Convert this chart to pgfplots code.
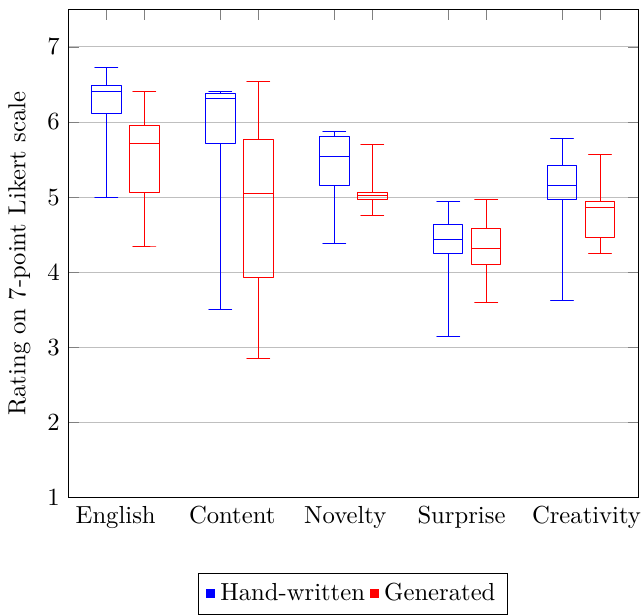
\documentclass[border=0pt]{standalone}
\usepackage{pgfplots}
\pgfplotsset{compat=1.18}
\pgfplotsset{
  hw/.style={blue, mark=none, forget plot, line join=round, line cap=round},
  gen/.style={red, mark=none, forget plot, line join=round, line cap=round},
}
\begin{document}
\begin{tikzpicture}
\begin{axis}[
  scale only axis,
  width=231pt, height=198pt,
  xmin=0.5, xmax=5.5,
  ymin=1, ymax=7.5,
  ytick={1,2,3,4,5,6,7},
  ymajorgrids,
  xtick=\empty,
  extra x ticks={0.56,1.555,2.565,3.56,4.565},
  extra x tick labels={English,Content,Novelty,Surprise,Creativity},
  extra x tick style={major tick length=0pt, xticklabel style={anchor=north west, inner xsep=0pt}},
  ylabel={Rating on 7-point Likert scale},
  legend style={at={(0.5,-0.154)}, anchor=north, legend columns=2,
    /tikz/every even column/.append style={column sep=0pt}},
  legend image code/.code={\fill[#1] (0pt,-1.7pt) rectangle (3.4pt,1.7pt);},
]
% Each box: whisker 5-number summary (LW, LQ, M, UQ, UW)
% English  Hand-written: 5.00 6.11 6.41 6.49 6.72
\addplot[hw] coordinates {(0.7333,5.00) (0.9333,5.00) (0.8333,5.00) (0.8333,6.11) (0.7033,6.11) (0.7033,6.49) (0.9633,6.49) (0.9633,6.11) (0.7033,6.11) (0.7033,6.41) (0.9633,6.41) (0.9633,6.49) (0.8333,6.49) (0.8333,6.72) (0.7333,6.72) (0.9333,6.72)};
% English  Generated: 4.35 5.06 5.71 5.96 6.41
\addplot[gen] coordinates {(1.0667,4.35) (1.2667,4.35) (1.1667,4.35) (1.1667,5.06) (1.0367,5.06) (1.0367,5.96) (1.2967,5.96) (1.2967,5.06) (1.0367,5.06) (1.0367,5.71) (1.2967,5.71) (1.2967,5.96) (1.1667,5.96) (1.1667,6.41) (1.0667,6.41) (1.2667,6.41)};
% Content  Hand-written: 3.51 5.72 6.32 6.38 6.41
\addplot[hw] coordinates {(1.7333,3.51) (1.9333,3.51) (1.8333,3.51) (1.8333,5.72) (1.7033,5.72) (1.7033,6.38) (1.9633,6.38) (1.9633,5.72) (1.7033,5.72) (1.7033,6.32) (1.9633,6.32) (1.9633,6.38) (1.8333,6.38) (1.8333,6.41) (1.7333,6.41) (1.9333,6.41)};
% Content  Generated: 2.85 3.93 5.05 5.77 6.54
\addplot[gen] coordinates {(2.0667,2.85) (2.2667,2.85) (2.1667,2.85) (2.1667,3.93) (2.0367,3.93) (2.0367,5.77) (2.2967,5.77) (2.2967,3.93) (2.0367,3.93) (2.0367,5.05) (2.2967,5.05) (2.2967,5.77) (2.1667,5.77) (2.1667,6.54) (2.0667,6.54) (2.2667,6.54)};
% Novelty  Hand-written: 4.38 5.16 5.54 5.81 5.88
\addplot[hw] coordinates {(2.7333,4.38) (2.9333,4.38) (2.8333,4.38) (2.8333,5.16) (2.7033,5.16) (2.7033,5.81) (2.9633,5.81) (2.9633,5.16) (2.7033,5.16) (2.7033,5.54) (2.9633,5.54) (2.9633,5.81) (2.8333,5.81) (2.8333,5.88) (2.7333,5.88) (2.9333,5.88)};
% Novelty  Generated: 4.75 4.97 5.02 5.06 5.70
\addplot[gen] coordinates {(3.0667,4.75) (3.2667,4.75) (3.1667,4.75) (3.1667,4.97) (3.0367,4.97) (3.0367,5.06) (3.2967,5.06) (3.2967,4.97) (3.0367,4.97) (3.0367,5.02) (3.2967,5.02) (3.2967,5.06) (3.1667,5.06) (3.1667,5.70) (3.0667,5.70) (3.2667,5.70)};
% Surprise Hand-written: 3.15 4.25 4.44 4.64 4.94
\addplot[hw] coordinates {(3.7333,3.15) (3.9333,3.15) (3.8333,3.15) (3.8333,4.25) (3.7033,4.25) (3.7033,4.64) (3.9633,4.64) (3.9633,4.25) (3.7033,4.25) (3.7033,4.44) (3.9633,4.44) (3.9633,4.64) (3.8333,4.64) (3.8333,4.94) (3.7333,4.94) (3.9333,4.94)};
% Surprise Generated: 3.60 4.10 4.32 4.58 4.97
\addplot[gen] coordinates {(4.0667,3.60) (4.2667,3.60) (4.1667,3.60) (4.1667,4.10) (4.0367,4.10) (4.0367,4.58) (4.2967,4.58) (4.2967,4.10) (4.0367,4.10) (4.0367,4.32) (4.2967,4.32) (4.2967,4.58) (4.1667,4.58) (4.1667,4.97) (4.0667,4.97) (4.2667,4.97)};
% Creativity Hand-written: 3.63 4.97 5.16 5.42 5.78
\addplot[hw] coordinates {(4.7333,3.63) (4.9333,3.63) (4.8333,3.63) (4.8333,4.97) (4.7033,4.97) (4.7033,5.42) (4.9633,5.42) (4.9633,4.97) (4.7033,4.97) (4.7033,5.16) (4.9633,5.16) (4.9633,5.42) (4.8333,5.42) (4.8333,5.78) (4.7333,5.78) (4.9333,5.78)};
% Creativity Generated: 4.25 4.46 4.86 4.94 5.57
\addplot[gen] coordinates {(5.0667,4.25) (5.2667,4.25) (5.1667,4.25) (5.1667,4.46) (5.0367,4.46) (5.0367,4.94) (5.2967,4.94) (5.2967,4.46) (5.0367,4.46) (5.0367,4.86) (5.2967,4.86) (5.2967,4.94) (5.1667,4.94) (5.1667,5.57) (5.0667,5.57) (5.2667,5.57)};
\addlegendimage{blue}
\addlegendentry{Hand-written}
\addlegendimage{red}
\addlegendentry{Generated}
\end{axis}
\begin{axis}[
  scale only axis,
  width=231pt, height=198pt,
  xmin=0.5, xmax=5.5,
  ymin=1, ymax=7.5,
  hide y axis,
  xtick={0.8333,1.1667,1.8333,2.1667,2.8333,3.1667,3.8333,4.1667,4.8333,5.1667},
  xticklabels={},
  xtick pos=right,
  xticklabel style={inner sep=1.8pt},
]
\addplot[draw=none, forget plot] coordinates {(1,1) (5,7)};
\end{axis}
\end{tikzpicture}
\end{document}
